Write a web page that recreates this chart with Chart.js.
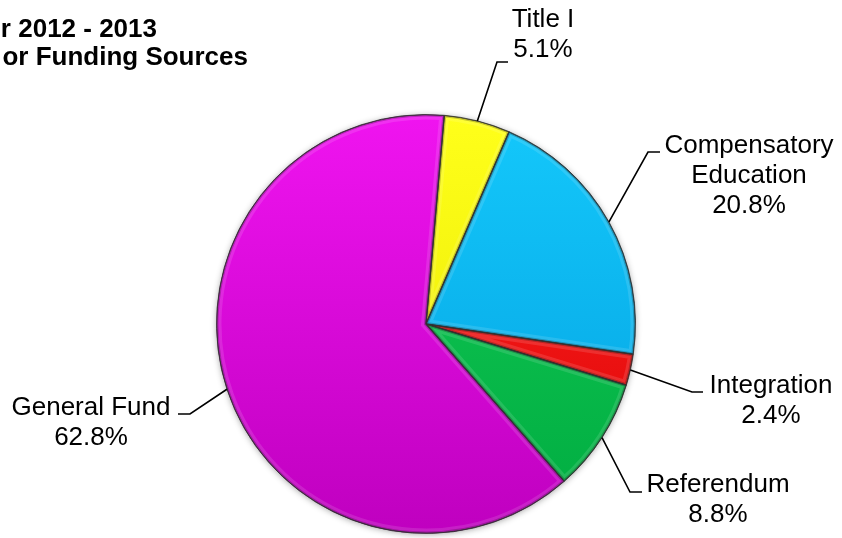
<!DOCTYPE html>
<html>
<head>
<meta charset="utf-8">
<script src="https://cdn.jsdelivr.net/npm/chart.js@4.4.1/dist/chart.umd.min.js"></script>
<style>
  html, body { margin: 0; padding: 0; background: #fff; }
  #wrap { width: 842px; height: 538px; }
</style>
</head>
<body>
<div id="wrap"><canvas id="fundChart" width="842" height="538"></canvas></div>
<script>
// funding sources, clockwise from the top
const categories = ['Title I', 'Compensatory\nEducation', 'Integration', 'Referendum', 'General Fund'];
const shares = [5.1, 20.8, 2.4, 8.8, 62.8];
const topColors = ['#ffff1a', '#14c8fb', '#ff2a2a', '#14cc58', '#f014f0'];
const bottomColors = ['#e6e600', '#03a0e0', '#dd0000', '#00ac40', '#bf00bf'];
const titleLines = ['r 2012 - 2013', 'or Funding Sources'];

// where each callout sits: elbow of the leader, end of the leader, text centre and first baseline
const callouts = [
  { elbow: [497, 62], end: [508, 62], tx: 543, ty: 27 },
  { elbow: [648, 152], end: [660, 152], tx: 749, ty: 153 },
  { elbow: [692, 392], end: [703, 392], tx: 771, ty: 393 },
  { elbow: [630, 492], end: [642, 492], tx: 718, ty: 492 },
  { elbow: [190, 414], end: [178, 414], tx: 91, ty: 415 }
];

function sliceFill(ctx, i) {
  const area = ctx.chart.chartArea;
  if (!area) return topColors[i];
  const g = ctx.chart.ctx.createLinearGradient(0, area.top, 0, area.bottom);
  g.addColorStop(0, topColors[i]);
  g.addColorStop(1, bottomColors[i]);
  return g;
}

const pieShadow = {
  id: 'pieShadow',
  beforeDatasetsDraw(chart) {
    const arc = chart.getDatasetMeta(0).data[0];
    if (!arc) return;
    const c = chart.ctx;
    c.save();
    c.shadowColor = 'rgba(0,0,0,0.45)';
    c.shadowBlur = 7;
    c.shadowOffsetY = 1;
    c.fillStyle = '#888';
    c.beginPath();
    c.arc(arc.x, arc.y, arc.outerRadius - 1, 0, Math.PI * 2);
    c.fill();
    c.restore();
  }
};

const bevel = {
  id: 'bevel',
  afterDatasetsDraw(chart) {
    const meta = chart.getDatasetMeta(0);
    const c = chart.ctx;
    meta.data.forEach(arc => {
      c.save();
      c.beginPath();
      c.moveTo(arc.x, arc.y);
      c.arc(arc.x, arc.y, arc.outerRadius, arc.startAngle, arc.endAngle);
      c.closePath();
      c.clip();
      // darker rim just inside the slice edges, then a faint light band
      c.strokeStyle = 'rgba(255,255,255,0.12)';
      c.lineWidth = 10;
      c.stroke();
      c.strokeStyle = 'rgba(0,0,0,0.22)';
      c.lineWidth = 4;
      c.stroke();
      c.strokeStyle = 'rgba(40,40,40,0.75)';
      c.lineWidth = 1.5;
      c.stroke();
      c.restore();
    });
  }
};

const callout = {
  id: 'callout',
  afterDraw(chart) {
    const meta = chart.getDatasetMeta(0);
    const c = chart.ctx;
    c.save();
    c.strokeStyle = '#000';
    c.lineWidth = 1.6;
    c.fillStyle = '#000';
    c.font = '26px "Liberation Sans", Arial, sans-serif';
    c.textAlign = 'center';
    c.textBaseline = 'alphabetic';
    meta.data.forEach((arc, i) => {
      const mid = (arc.startAngle + arc.endAngle) / 2;
      const sx = arc.x + Math.cos(mid) * arc.outerRadius;
      const sy = arc.y + Math.sin(mid) * arc.outerRadius;
      const co = callouts[i];
      c.beginPath();
      c.moveTo(sx, sy);
      c.lineTo(co.elbow[0], co.elbow[1]);
      c.lineTo(co.end[0], co.end[1]);
      c.stroke();
      const lines = categories[i].split('\n').concat(shares[i].toFixed(1) + '%');
      lines.forEach((t, k) => c.fillText(t, co.tx, co.ty + k * 30));
    });
    // heading, cut off at the left edge
    c.font = 'bold 26px "Liberation Sans", Arial, sans-serif';
    c.textAlign = 'right';
    c.fillText(titleLines[0], 157, 37);
    c.fillText(titleLines[1], 248, 65);
    c.restore();
  }
};

new Chart(document.getElementById('fundChart').getContext('2d'), {
  type: 'pie',
  data: {
    labels: categories,
    datasets: [{
      data: shares,
      backgroundColor: ctx => sliceFill(ctx, ctx.dataIndex),
      borderColor: 'rgba(50,50,50,0.8)',
      borderWidth: 1
    }]
  },
  options: {
    responsive: false,
    animation: false,
    rotation: 5,
    layout: { padding: { left: 216, right: 206, top: 114, bottom: 4 } },
    plugins: {
      legend: { display: false },
      tooltip: { enabled: false }
    }
  },
  plugins: [pieShadow, bevel, callout]
});
</script>
</body>
</html>
